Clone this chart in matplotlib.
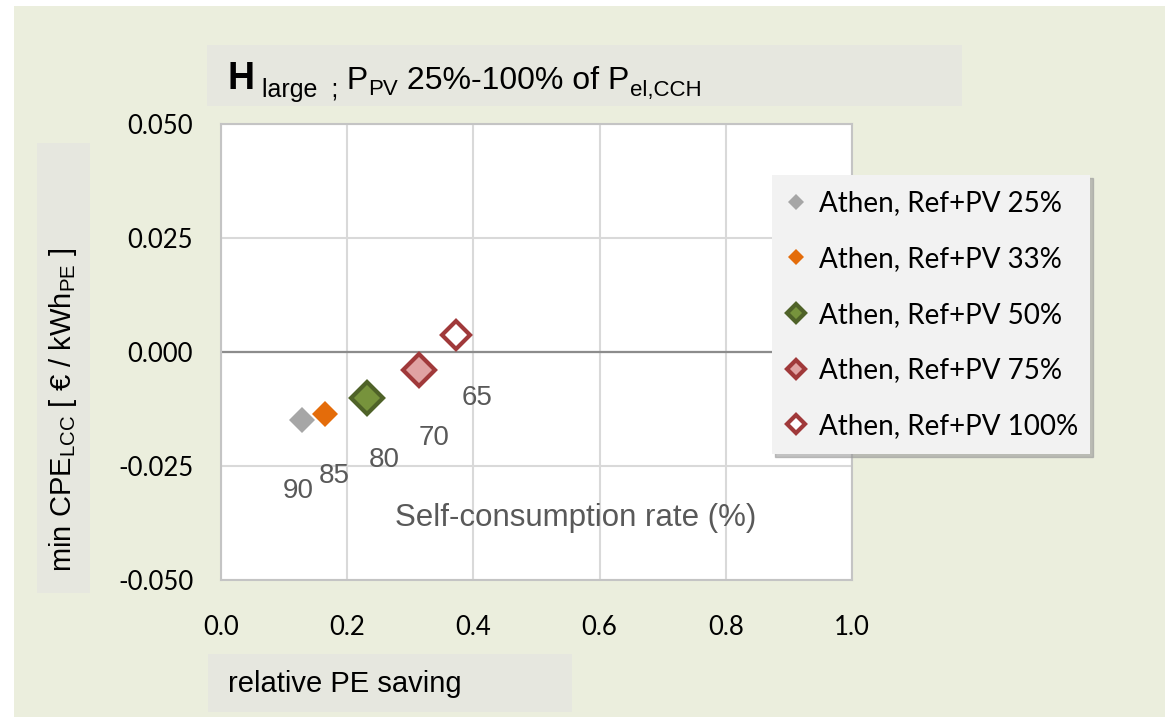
import matplotlib
matplotlib.use("Agg")
import matplotlib.pyplot as plt
from matplotlib.patches import Rectangle

# ---- data ----
series_labels = ["Athen, Ref+PV 25%", "Athen, Ref+PV 33%", "Athen, Ref+PV 50%",
                 "Athen, Ref+PV 75%", "Athen, Ref+PV 100%"]
pe_saving = [0.128, 0.165, 0.231, 0.314, 0.372]
min_cpe = [-0.0150, -0.0137, -0.0100, -0.0040, 0.0037]
self_consumption = ["90", "85", "80", "70", "65"]
label_x = [0.123, 0.180, 0.258, 0.338, 0.406]
label_y = [-0.0305, -0.0272, -0.0237, -0.0188, -0.0100]
x_ticks = [0.0, 0.2, 0.4, 0.6, 0.8, 1.0]
y_ticks = [-0.050, -0.025, 0.000, 0.025, 0.050]

face_colors = ["#A6A6A6", "#E46C0A", "#77933C", "#E0A3A3", "#FFFFFF"]
edge_colors = ["#A6A6A6", "#E46C0A", "#4F6228", "#A0393A", "#A0393A"]
edge_widths = [0, 0, 3.0, 3.0, 3.0]
marker_sizes = [13, 13, 16, 16, 14.5]

plt.rcParams['mathtext.fontset'] = 'custom'
plt.rcParams['mathtext.rm'] = 'Liberation Sans'
plt.rcParams['mathtext.bf'] = 'Liberation Sans:bold'
plt.rcParams['mathtext.it'] = 'Liberation Sans:italic'

W, H = 1165, 717
fig = plt.figure(figsize=(W / 100, H / 100), dpi=100, facecolor="white")

BG = "#EBEEDD"
BOX = "#E6E7DF"
fig.patches.append(Rectangle((14 / W, 0), 1, 1 - 6 / H, transform=fig.transFigure,
                             facecolor=BG, edgecolor="none", zorder=-10))
fig.patches.append(Rectangle((207 / W, 1 - 106 / H), (962 - 207) / W, 61 / H,
                             transform=fig.transFigure, facecolor=BOX, edgecolor="none", zorder=-5))
fig.patches.append(Rectangle((37 / W, 1 - 593 / H), 53 / W, 450 / H,
                             transform=fig.transFigure, facecolor=BOX, edgecolor="none", zorder=-5))
fig.patches.append(Rectangle((208 / W, 1 - 712 / H), 364 / W, 58 / H,
                             transform=fig.transFigure, facecolor=BOX, edgecolor="none", zorder=-5))

ax = fig.add_axes([221 / W, 1 - 580 / H, 631 / W, 456 / H])
ax.set_facecolor("white")
ax.set_xlim(0, 1.0)
ax.set_ylim(-0.05, 0.05)
ax.set_xticks(x_ticks)
ax.set_yticks(y_ticks)
ax.set_xticklabels([f"{v:.1f}" for v in x_ticks])
ax.set_yticklabels([f"{v:.3f}" for v in y_ticks])
ax.tick_params(axis="both", length=0, labelsize=18.5, labelcolor="#000000")
ax.tick_params(axis="x", pad=25)
ax.tick_params(axis="y", pad=20)
for lab in ax.get_xticklabels() + ax.get_yticklabels():
    lab.set_fontfamily("Lato")
ax.grid(True, color="#D9D9D9", linewidth=1.5)
ax.set_axisbelow(True)
ax.axhline(0, color="#8C8C8C", linewidth=1.6, zorder=1)
for sp in ax.spines.values():
    sp.set_color("#C4C4C4")
    sp.set_linewidth(1.5)

handles = []
for i in range(len(series_labels)):
    h, = ax.plot([pe_saving[i]], [min_cpe[i]], linestyle="none", marker="D",
                 markersize=marker_sizes[i], markerfacecolor=face_colors[i],
                 markeredgecolor=edge_colors[i], markeredgewidth=edge_widths[i],
                 label=series_labels[i], zorder=5)
    handles.append(h)

for s, lx, ly in zip(self_consumption, label_x, label_y):
    ax.text(lx, ly, s, fontsize=20, color="#595959", family="Liberation Sans",
            ha="center", va="center")
ax.text(0.562, -0.0365, "Self-consumption rate (%)", fontsize=22.5, color="#595959",
        family="Liberation Sans", ha="center", va="center")

leg = ax.legend(handles=handles, loc="upper left",
                bbox_to_anchor=(772 / W, 1 - 458 / H, (1090 - 772) / W, (458 - 175) / H),
                bbox_transform=fig.transFigure, mode="expand",
                prop={"family": "Lato", "size": 20}, frameon=True, fancybox=False,
                shadow={"color": "#9A9A9A", "alpha": 0.6}, facecolor="#F2F2F2", edgecolor="none",
                framealpha=1.0, labelspacing=1.07, markerscale=0.6, handlelength=0.6,
                handletextpad=0.55, borderpad=0.55, borderaxespad=0)

# title, built from pieces placed one after another
pieces = [
    ("H", 27, "bold", 89),
    (" large  ;", 18, "normal", 97),
    (" P", 23, "normal", 89),
    ("PV", 16, "normal", 95),
    (" 25%-100% of P", 23, "normal", 89),
    ("el,CCH", 16, "normal", 96),
]
fig.canvas.draw()
renderer = fig.canvas.get_renderer()
x_px = 228
for s, size, weight, base in pieces:
    t = fig.text(x_px / W, 1 - base / H, s, fontsize=size, fontweight=weight,
                 family="Liberation Sans", ha="left", va="baseline", color="#000000")
    bb = t.get_window_extent(renderer=renderer)
    x_px = bb.x1

fig.text(63 / W, 1 - 410 / H, r"min CPE$_{\mathrm{LCC}}$ [ € / kWh$_{\mathrm{PE}}$ ]",
         rotation=90, fontsize=21, family="Liberation Sans", ha="center", va="center")
fig.text(228 / W, 1 - 684 / H, "relative PE saving", fontsize=21,
         family="Liberation Sans", ha="left", va="center")

fig.savefig("out.png", dpi=100, facecolor=fig.get_facecolor())
